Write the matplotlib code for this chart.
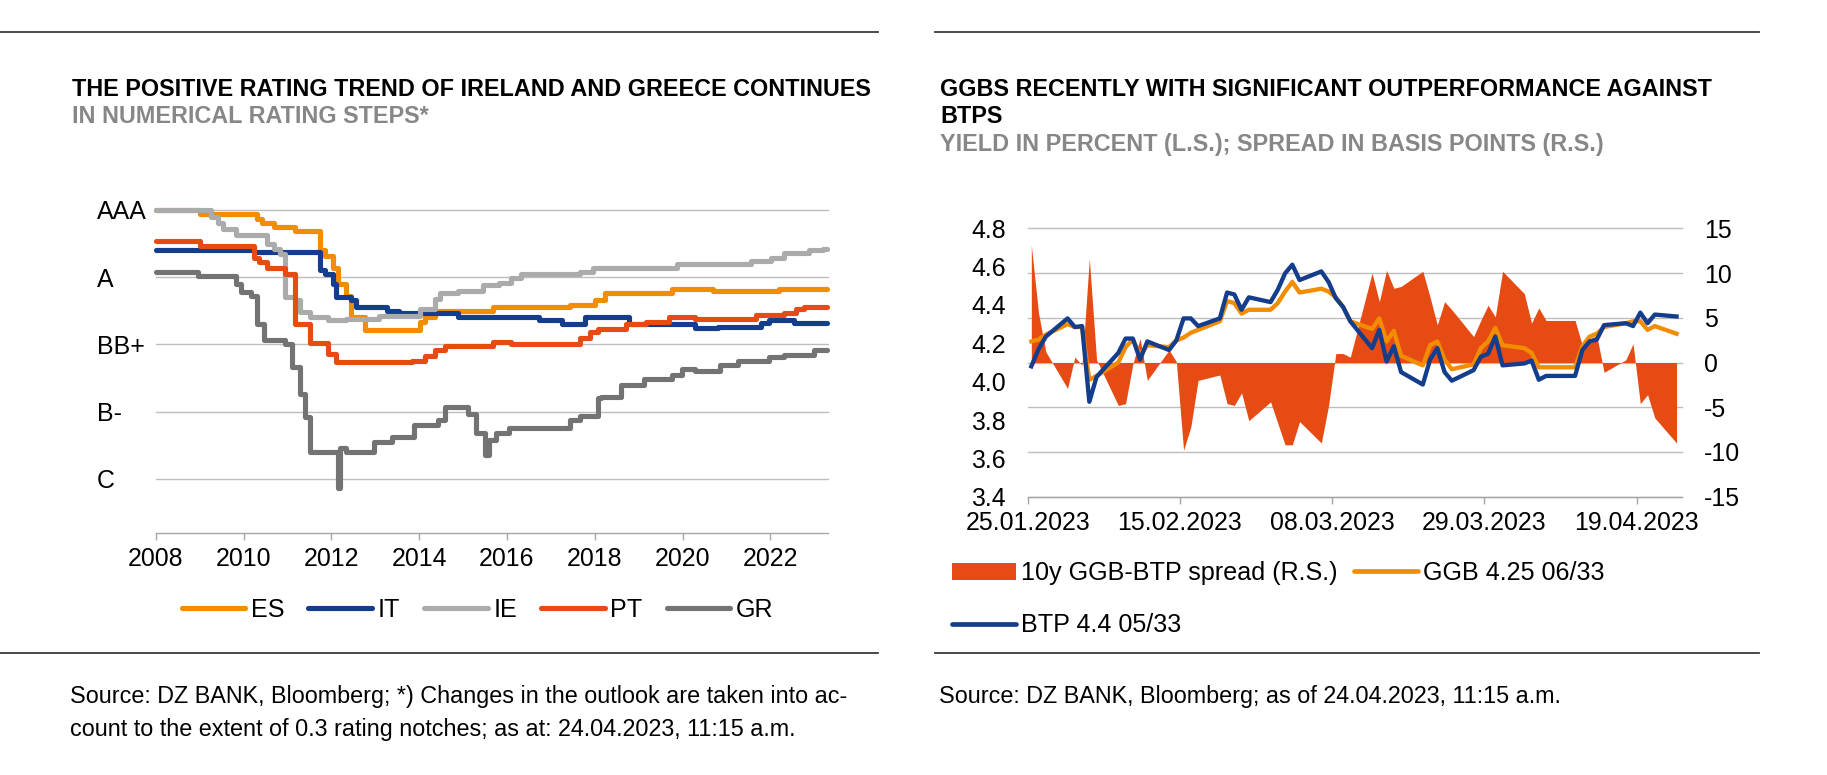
import numpy as np
import matplotlib
matplotlib.use('Agg')
import matplotlib.pyplot as plt
import matplotlib.dates as mdates
from matplotlib.lines import Line2D
from matplotlib.patches import Patch

plt.rcParams['font.family'] = ['Liberation Sans', 'DejaVu Sans']

# ---------- left chart: rating steps (step changes, year -> numerical notch) ----------
rating_ticks = [22, 17, 12, 7, 2]
rating_labels = ['AAA', 'A', 'BB+', 'B-', 'C']
year_ticks = [2008, 2010, 2012, 2014, 2016, 2018, 2020, 2022]
last_year = 2023.29

es_years = [2008.0, 2009.02, 2010.30, 2010.41, 2010.70, 2011.17, 2011.75, 2011.86, 2012.04, 2012.15,
            2012.33, 2012.44, 2012.76, 2014.01, 2014.13, 2014.36, 2015.69, 2017.43, 2018.01, 2018.24,
            2019.75, 2020.68, 2022.19]
es_vals = [22.0, 21.7, 21.3, 21.0, 20.7, 20.45, 19.0, 18.6, 17.7, 16.5,
           15.6, 14.0, 13.1, 13.7, 14.0, 14.5, 14.8, 14.9, 15.3, 15.8,
           16.1, 16.0, 16.1]

it_years = [2008.0, 2010.24, 2011.63, 2011.75, 2011.86, 2012.04, 2012.10, 2012.44, 2012.56, 2013.26,
            2013.55, 2014.88, 2016.74, 2017.26, 2017.78, 2018.77, 2020.27, 2020.80, 2021.78, 2021.96,
            2022.54]
it_vals = [19.0, 18.9, 18.85, 17.5, 17.2, 16.5, 15.5, 15.3, 14.8, 14.5,
           14.3, 14.0, 13.8, 13.5, 14.0, 13.5, 13.2, 13.3, 13.6, 13.8,
           13.6]

ie_years = [2008.0, 2009.25, 2009.43, 2009.54, 2009.83, 2010.53, 2010.70, 2010.82, 2010.94, 2011.17,
            2011.28, 2011.52, 2011.92, 2012.33, 2013.08, 2014.01, 2014.36, 2014.47, 2014.88, 2015.46,
            2015.81, 2016.10, 2016.33, 2017.66, 2017.95, 2019.87, 2021.55, 2022.01, 2022.30, 2022.88,
            2023.20]
ie_vals = [22.0, 21.5, 21.0, 20.6, 20.1, 19.5, 19.1, 18.7, 15.5, 15.3,
           14.4, 14.0, 13.8, 13.9, 14.1, 14.6, 15.4, 15.8, 16.0, 16.4,
           16.6, 16.9, 17.2, 17.4, 17.7, 18.0, 18.2, 18.4, 18.8, 19.0,
           19.1]

pt_years = [2008.0, 2009.02, 2010.24, 2010.36, 2010.53, 2010.94, 2011.17, 2011.52, 2011.92, 2012.10,
            2013.84, 2014.13, 2014.36, 2014.59, 2015.69, 2016.10, 2017.66, 2017.90, 2018.07, 2018.71,
            2019.17, 2019.69, 2020.27, 2021.66, 2022.30, 2022.59, 2022.77]
pt_vals = [19.7, 19.35, 18.4, 18.1, 17.7, 17.2, 13.5, 12.1, 11.3, 10.7,
           10.8, 11.1, 11.55, 11.9, 12.2, 12.05, 12.5, 12.9, 13.15, 13.5,
           13.7, 14.0, 13.9, 14.15, 14.3, 14.65, 14.8]

gr_years = [2008.0, 2008.96, 2009.83, 2009.95, 2010.18, 2010.30, 2010.47, 2010.94, 2011.11, 2011.28,
            2011.40, 2011.52, 2012.15, 2012.19, 2012.33, 2012.97, 2013.37, 2013.89, 2014.42, 2014.59,
            2015.11, 2015.29, 2015.49, 2015.58, 2015.75, 2016.04, 2017.43, 2017.66, 2018.07, 2018.13,
            2018.59, 2019.11, 2019.75, 2019.98, 2020.27, 2020.85, 2021.26, 2021.96, 2022.30, 2023.00]
gr_vals = [17.4, 17.05, 16.5, 15.9, 15.6, 13.5, 12.3, 12.0, 10.3, 8.3,
           6.6, 4.0, 1.3, 4.3, 4.0, 4.75, 5.1, 6.0, 6.35, 7.35,
           6.85, 5.4, 3.8, 4.9, 5.4, 5.75, 6.35, 6.7, 8.0, 8.1,
           8.95, 9.45, 9.7, 10.2, 10.05, 10.45, 10.8, 11.05, 11.2, 11.55]

countries = ['ES', 'IT', 'IE', 'PT', 'GR']

# ---------- right chart: GGB vs BTP ----------
bond_dates = ['2023-01-25', '2023-01-26', '2023-01-27', '2023-01-30', '2023-01-31',
              '2023-02-01', '2023-02-02', '2023-02-03', '2023-02-06', '2023-02-07', '2023-02-08', '2023-02-09',
              '2023-02-10', '2023-02-13', '2023-02-14', '2023-02-15', '2023-02-16', '2023-02-17', '2023-02-20',
              '2023-02-21', '2023-02-22', '2023-02-23', '2023-02-24', '2023-02-27', '2023-02-28',
              '2023-03-01', '2023-03-02', '2023-03-03', '2023-03-06', '2023-03-07', '2023-03-08', '2023-03-09',
              '2023-03-10', '2023-03-13', '2023-03-14', '2023-03-15', '2023-03-16', '2023-03-17', '2023-03-20',
              '2023-03-21', '2023-03-22', '2023-03-23', '2023-03-24', '2023-03-27', '2023-03-28', '2023-03-29',
              '2023-03-30', '2023-03-31',
              '2023-04-03', '2023-04-04', '2023-04-05', '2023-04-06', '2023-04-07', '2023-04-10', '2023-04-11',
              '2023-04-12', '2023-04-13', '2023-04-14', '2023-04-17', '2023-04-18', '2023-04-19', '2023-04-20',
              '2023-04-21', '2023-04-24']
spread_bp = [13.1, 5.5, 1.2, -2.9, 0.6, -0.3, 11.6, 0.3, -4.8, -4.6,
             -0.2, 2.7, -2.0, 1.4, 0.1, -9.8, -7.2, -2.0, -1.4, -4.6,
             -4.8, -3.4, -6.5, -4.4, -6.8, -9.2, -9.2, -6.6, -9.0, -4.8,
             1.0, 1.0, 0.6, 10.0, 6.8, 10.3, 8.3, 8.5, 10.2, 7.3,
             4.2, 6.8, 5.9, 2.9, 4.7, 6.4, 5.1, 10.2, 7.7, 4.4,
             6.1, 4.7, 4.7, 4.7, 1.9, 2.6, 3.0, -1.1, 0.3, 2.1,
             -4.6, -3.6, -6.2, -9.0]
btp_yield = [4.08, 4.17, 4.235, 4.33, 4.285, 4.29, 3.895, 4.025, 4.15, 4.225,
             4.225, 4.115, 4.21, 4.165, 4.215, 4.33, 4.33, 4.29, 4.33, 4.465,
             4.455, 4.375, 4.44, 4.415, 4.48, 4.565, 4.61, 4.53, 4.575, 4.52,
             4.435, 4.39, 4.315, 4.175, 4.27, 4.105, 4.185, 4.05, 3.985, 4.115,
             4.175, 4.05, 4.005, 4.06, 4.13, 4.145, 4.235, 4.085, 4.095, 4.11,
             4.01, 4.03, 4.03, 4.03, 4.165, 4.21, 4.22, 4.295, 4.305, 4.29,
             4.36, 4.305, 4.35, 4.34]
ggb_yield = [4.21, 4.22, 4.245, 4.30, 4.285, 4.285, 4.01, 4.03, 4.10, 4.18,
             4.22, 4.14, 4.19, 4.18, 4.215, 4.23, 4.255, 4.27, 4.315, 4.42,
             4.41, 4.355, 4.375, 4.375, 4.41, 4.47, 4.52, 4.465, 4.485, 4.47,
             4.44, 4.39, 4.315, 4.275, 4.33, 4.21, 4.265, 4.135, 4.085, 4.19,
             4.21, 4.115, 4.065, 4.09, 4.175, 4.21, 4.28, 4.19, 4.175, 4.15,
             4.075, 4.075, 4.075, 4.075, 4.185, 4.235, 4.25, 4.285, 4.305, 4.315,
             4.315, 4.27, 4.29, 4.25]
date_ticks = ['2023-01-25', '2023-02-15', '2023-03-08', '2023-03-29', '2023-04-19']
yield_ticks = [3.4, 3.6, 3.8, 4.0, 4.2, 4.4, 4.6, 4.8]
spread_ticks = [-15, -10, -5, 0, 5, 10, 15]

ORANGE = '#F28C00'
BLUE = '#143D8C'
LIGHTGREY = '#ABABAB'
RED = '#E64B14'
DARKGREY = '#737373'
GRID = '#BDBDBD'
AXIS = '#A6A6A6'
SUBGREY = '#878787'
RULE = '#3A3A3A'

TICK_FS = 17.9
LEG_FS = 18.1
TITLE_FS = 16.8
SRC_FS = 16.8

W, H = 1827, 775


def fx(px):
    return px / W


def fy(py):
    return 1 - py / H


def axes_rect(x0, y0, x1, y1):
    return [fx(x0), fy(y1), (x1 - x0) / W, (y1 - y0) / H]


fig = plt.figure(figsize=(W / 100, H / 100), dpi=100)

# rules above / below both panels
for x0, x1 in [(0, 878), (935, 1759)]:
    for yy in (31.7, 653.3):
        fig.add_artist(Line2D([fx(x0), fx(x1)], [fy(yy), fy(yy)], color=RULE, lw=1.3))

# titles
fig.text(fx(71.7), fy(96), 'THE POSITIVE RATING TREND OF IRELAND AND GREECE CONTINUES',
         fontsize=TITLE_FS, fontweight='bold', va='baseline')
fig.text(fx(71.7), fy(123.3), 'IN NUMERICAL RATING STEPS*',
         fontsize=TITLE_FS, fontweight='bold', color=SUBGREY, va='baseline')
fig.text(fx(940), fy(96), 'GGBS RECENTLY WITH SIGNIFICANT OUTPERFORMANCE AGAINST',
         fontsize=TITLE_FS, fontweight='bold', va='baseline')
fig.text(fx(940), fy(123.3), 'BTPS', fontsize=TITLE_FS, fontweight='bold', va='baseline')
fig.text(fx(940), fy(150.6), 'YIELD IN PERCENT (L.S.); SPREAD IN BASIS POINTS (R.S.)',
         fontsize=TITLE_FS, fontweight='bold', color=SUBGREY, va='baseline')

# sources
fig.text(fx(70.5), fy(703), 'Source: DZ BANK, Bloomberg; *) Changes in the outlook are taken into ac-',
         fontsize=SRC_FS, va='baseline')
fig.text(fx(70.5), fy(736.3), 'count to the extent of 0.3 rating notches; as at: 24.04.2023, 11:15 a.m.',
         fontsize=SRC_FS, va='baseline')
fig.text(fx(939.5), fy(703), 'Source: DZ BANK, Bloomberg; as of 24.04.2023, 11:15 a.m.',
         fontsize=SRC_FS, va='baseline')

# ---------------- left chart ----------------
ax = fig.add_axes(axes_rect(155.7, 209.2, 828, 532.7))
series = [(es_years, es_vals, ORANGE), (it_years, it_vals, BLUE), (ie_years, ie_vals, LIGHTGREY),
          (pt_years, pt_vals, RED), (gr_years, gr_vals, DARKGREY)]
handles = []
for name, (yrs, vals, col) in zip(countries, series):
    ax.step(yrs + [last_year], vals + [vals[-1]], where='post', color=col, lw=3.7,
            solid_joinstyle='round', solid_capstyle='round', clip_on=False, zorder=3)
    handles.append(Line2D([], [], color=col, lw=3.7, solid_capstyle='round'))

ax.set_xlim(2008, 2023.31)
ax.set_ylim(-2, 22.05)
ax.set_yticks(rating_ticks)
ax.set_yticklabels(rating_labels, ha='left')
ax.set_xticks(year_ticks)
ax.set_xticklabels([str(y) for y in year_ticks])
ax.yaxis.grid(True, color=GRID, lw=1.0)
for gl in ax.get_ygridlines():
    gl.set_clip_on(False)
ax.set_axisbelow(True)
for s in ['left', 'right', 'top']:
    ax.spines[s].set_visible(False)
ax.spines['bottom'].set_color(AXIS)
ax.spines['bottom'].set_linewidth(1.0)
ax.tick_params(axis='y', length=0, pad=42.5, labelsize=TICK_FS)
ax.tick_params(axis='x', direction='out', length=4.8, width=1.0, color=AXIS, pad=5.6, labelsize=TICK_FS)

fig.legend(handles, countries, loc='center left', bbox_to_anchor=(fx(181.7), fy(610)),
           ncol=5, frameon=False, fontsize=LEG_FS, handlelength=2.52, handletextpad=0.23,
           columnspacing=0.96, borderpad=0, borderaxespad=0)

# ---------------- right chart ----------------
x = np.array(bond_dates, dtype='datetime64[D]') + np.timedelta64(12, 'h')
bx = fig.add_axes(axes_rect(1027.7, 228.3, 1681.7, 496.7))
bx2 = bx.twinx()
bx.set_zorder(2)
bx.patch.set_visible(False)
bx2.set_zorder(1)

bx2.fill_between(x, 0, spread_bp, color=RED, lw=0, zorder=2)
bx2.set_ylim(-15, 15)
bx2.set_yticks(spread_ticks)
bx2.set_yticklabels([str(v) for v in spread_ticks], ha='left')
bx2.yaxis.grid(True, color=GRID, lw=1.0)
for gl in bx2.get_ygridlines():
    gl.set_clip_on(False)
bx2.set_axisbelow(True)

bx.plot(x, ggb_yield, color=ORANGE, lw=3.1, solid_joinstyle='round', zorder=3)
bx.plot(x, btp_yield, color=BLUE, lw=3.1, solid_joinstyle='round', zorder=4)
bx.set_ylim(3.4, 4.8)
bx.set_yticks(yield_ticks)
bx.set_yticklabels(['%.1f' % v for v in yield_ticks])
bx.set_xlim(np.datetime64('2023-01-25'), np.datetime64('2023-04-25T05:00'))
bx.set_xticks(np.array(date_ticks, dtype='datetime64[D]'))
bx.xaxis.set_major_formatter(mdates.DateFormatter('%d.%m.%Y'))

for a in (bx, bx2):
    for s in ['left', 'right', 'top', 'bottom']:
        a.spines[s].set_visible(False)
bx.spines['bottom'].set_visible(True)
bx.spines['bottom'].set_color(AXIS)
bx.spines['bottom'].set_linewidth(1.0)
bx.tick_params(axis='y', length=0, pad=15.8, labelsize=TICK_FS)
bx2.tick_params(axis='y', length=0, pad=15.8, labelsize=TICK_FS)
bx.tick_params(axis='x', direction='out', length=4.8, width=1.0, color=AXIS, pad=5.6, labelsize=TICK_FS)

h_spread = Patch(facecolor=RED, edgecolor='none')
h_btp = Line2D([], [], color=BLUE, lw=3.4, solid_capstyle='round')
h_ggb = Line2D([], [], color=ORANGE, lw=3.4, solid_capstyle='round')
fig.legend([h_spread, h_btp, h_ggb], ['10y GGB-BTP spread (R.S.)', 'BTP 4.4 05/33', 'GGB 4.25 06/33'],
           loc='upper left', bbox_to_anchor=(fx(951.7), fy(561)), ncol=2, frameon=False,
           fontsize=LEG_FS, handlelength=2.55, handleheight=0.68, handletextpad=0.22,
           columnspacing=0.63, labelspacing=1.13, borderpad=0, borderaxespad=0)

fig.savefig('out.png', dpi=100)
